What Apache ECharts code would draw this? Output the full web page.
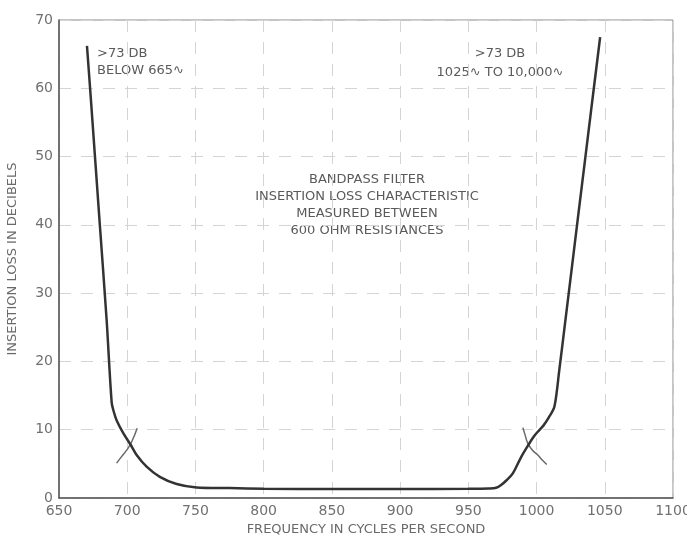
<!DOCTYPE html>
<html>
<head>
<meta charset="utf-8">
<script src="https://cdn.jsdelivr.net/npm/echarts@6/dist/echarts.min.js"></script>
<style>html,body{margin:0;padding:0;background:#fff}#c{width:687px;height:538px}</style>
</head>
<body>
<div id="c"></div>
<script>
// Insertion loss curve (frequency, dB)
const lossFreq = [670.5, 673.4, 680, 684.9, 688.6, 690.2, 692.2, 697.1, 702.5, 706.9, 714.2, 723.9, 736.2, 750.8, 775, 800, 850, 900, 950, 965, 970.4, 974, 978, 982.6, 988.7, 994.1, 998, 1000.9, 1005, 1009, 1013.1, 1016.7, 1020.4, 1030, 1040, 1046.6];
const lossDb   = [66.2, 58.3, 39.8, 26.1, 14.0, 12.6, 11.4, 9.5, 7.8, 6.3, 4.6, 3.1, 2.05, 1.55, 1.45, 1.35, 1.3, 1.3, 1.35, 1.4, 1.5, 1.9, 2.6, 3.6, 6.0, 7.8, 9.0, 9.7, 10.6, 11.8, 13.4, 18.8, 24.8, 40.5, 56.8, 67.5];
// Cross marks
const leftArcFreq = [692.2, 696, 699.6, 703.2, 707.3];
const leftArcDb   = [5.1, 6.1, 7.0, 8.2, 10.2];
const rightArcFreq = [990, 991.8, 993.6, 997, 1000.9, 1004, 1007.5];
const rightArcDb   = [10.3, 9.1, 8.0, 7.0, 6.3, 5.6, 4.9];
// Axes
const xTicks = [650, 700, 750, 800, 850, 900, 950, 1000, 1050, 1100];
const yTicks = [0, 10, 20, 30, 40, 50, 60, 70];
// Annotation texts
const noteLeft = ['>73 DB', 'BELOW 665\u223F'];
const noteRight = ['>73 DB', '1025\u223F TO 10,000\u223F'];
const noteCenter = ['BANDPASS FILTER', 'INSERTION LOSS CHARACTERISTIC', 'MEASURED BETWEEN', '600 OHM RESISTANCES'];

const zip = (a, b) => a.map((v, i) => [v, b[i]]);
const chart = echarts.init(document.getElementById('c'));
const FONT = 'DejaVu Sans';
const txt = { fontFamily: FONT, fontSize: 13, fill: '#5a5a5a' };

chart.setOption({
  animation: false,
  backgroundColor: '#fff',
  grid: { left: 59, right: 14, top: 20, bottom: 40, show: true, borderColor: '#8a8a8a', borderWidth: 1, outerBoundsMode: 'none', containLabel: false },
  xAxis: {
    type: 'value', min: xTicks[0], max: xTicks[xTicks.length - 1], interval: 50,
    name: 'FREQUENCY IN CYCLES PER SECOND', nameLocation: 'middle', nameGap: 24,
    nameTextStyle: { fontFamily: FONT, fontSize: 13, color: '#6a6a6a' },
    axisLine: { show: true, lineStyle: { color: '#555', width: 1.5 } },
    axisTick: { show: false },
    axisLabel: { fontFamily: FONT, fontSize: 14, color: '#707070', margin: 6, formatter: v => String(v) },
    splitLine: { show: true, lineStyle: { color: '#d4d4d4', type: [12, 10], width: 1 } }
  },
  yAxis: {
    type: 'value', min: yTicks[0], max: yTicks[yTicks.length - 1], interval: 10,
    name: 'INSERTION LOSS IN DECIBELS', nameLocation: 'middle', nameGap: 40,
    nameTextStyle: { fontFamily: FONT, fontSize: 13, color: '#6a6a6a' },
    axisLine: { show: true, lineStyle: { color: '#555', width: 1.5 } },
    axisTick: { show: false },
    axisLabel: { fontFamily: FONT, fontSize: 14, color: '#707070', margin: 6, formatter: v => String(v) },
    splitLine: { show: true, lineStyle: { color: '#d4d4d4', type: [12, 10], width: 1 } }
  },
  series: [
    { type: 'line', data: zip(lossFreq, lossDb), smooth: 0.3, showSymbol: false,
      lineStyle: { color: '#333', width: 2.5 }, z: 5 },
    { type: 'line', data: zip(leftArcFreq, leftArcDb), smooth: true, showSymbol: false,
      lineStyle: { color: '#6a6a6a', width: 1.5 }, z: 4 },
    { type: 'line', data: zip(rightArcFreq, rightArcDb), smooth: true, showSymbol: false,
      lineStyle: { color: '#6a6a6a', width: 1.5 }, z: 4 }
  ],
  graphic: [
    { type: 'text', x: 97, y: 45, style: Object.assign({ text: noteLeft.join('\n'), lineHeight: 17 }, txt) },
    { type: 'text', x: 500, y: 44, style: Object.assign({ text: noteRight.join('\n'), lineHeight: 19, align: 'center' }, txt) },
    { type: 'text', x: 367, y: 171, style: Object.assign({ text: noteCenter.join('\n'), lineHeight: 17, align: 'center' }, txt) }
  ]
});
</script>
</body>
</html>
